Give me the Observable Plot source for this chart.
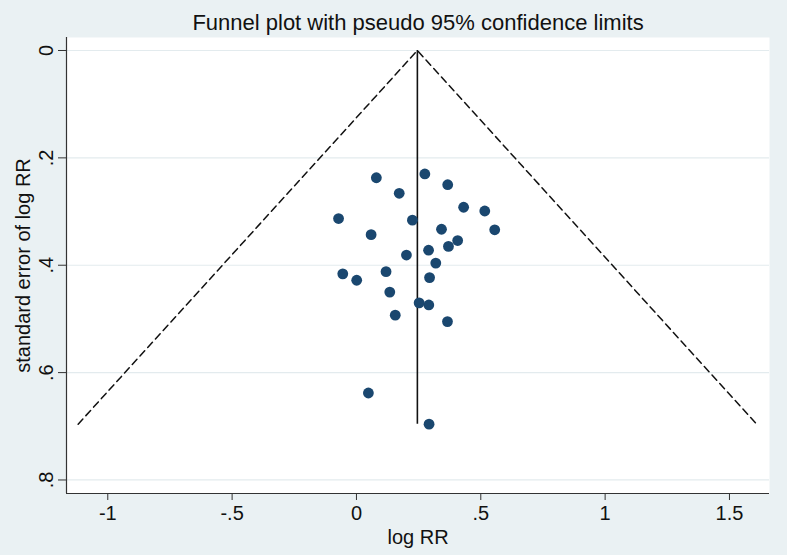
<!DOCTYPE html>
<html>
<head>
<meta charset="utf-8">
<script src="https://cdn.jsdelivr.net/npm/d3@7"></script>
<script src="https://cdn.jsdelivr.net/npm/@observablehq/plot@0.6"></script>
<style>
  html, body { margin: 0; padding: 0; background: #eaf1f3; }
  #chart { width: 787px; height: 555px; }
  svg { font-family: "Liberation Sans", Arial, Helvetica, sans-serif; }
</style>
</head>
<body>
<div id="chart"></div>
<script>
// Study estimates
const logRR = [0.080, 0.275, 0.367, 0.172, 0.431, 0.516, -0.072, 0.225, 0.342, 0.556,
               0.059, 0.407, 0.370, 0.290, 0.201, 0.319, -0.055, 0.119, 0.001, 0.294,
               0.134, 0.252, 0.291, 0.156, 0.366, 0.048, 0.292];
const seLogRR = [0.237, 0.230, 0.250, 0.266, 0.292, 0.299, 0.313, 0.316, 0.333, 0.334,
                 0.343, 0.354, 0.365, 0.372, 0.381, 0.396, 0.416, 0.412, 0.428, 0.423,
                 0.450, 0.470, 0.474, 0.493, 0.505, 0.638, 0.696];
const pooledLogRR = 0.245;
const xTicks = [-1, -0.5, 0, 0.5, 1, 1.5];
const yTicks = [0, 0.2, 0.4, 0.6, 0.8];
const titleText = "Funnel plot with pseudo 95% confidence limits";
const xTitle = "log RR";
const yTitle = "standard error of log RR";

const studies = logRR.map((v, i) => ({logRR: v, se: seLogRR[i]}));
const seMax = d3.max(seLogRR);
const z = 1.96;
const funnel = [
  {x: pooledLogRR - z * seMax, y: seMax},
  {x: pooledLogRR, y: 0},
  {x: pooledLogRR + z * seMax, y: seMax}
];
const xDomain = [-1.166, 1.661];
const yDomain = [0.8252, -0.0242];
const fmt = d => String(d).replace("0.", ".");

const chart = Plot.plot({
  width: 787,
  height: 555,
  marginLeft: 66,
  marginRight: 18,
  marginTop: 37,
  marginBottom: 62,
  style: {background: "#eaf1f3", fontSize: "20px", color: "#111"},
  x: {domain: xDomain},
  y: {domain: yDomain},
  marks: [
    Plot.frame({fill: "white", stroke: null}),
    Plot.gridY(yTicks, {stroke: "#e3ebee", strokeOpacity: 1, strokeWidth: 1.2}),
    Plot.line(funnel, {x: "x", y: "y", stroke: "#111", strokeWidth: 1.5, strokeDasharray: "7,4.5"}),
    Plot.ruleX([pooledLogRR], {y1: 0, y2: seMax, stroke: "#111", strokeWidth: 1.6}),
    Plot.dot(studies, {x: "logRR", y: "se", r: 5.4, fill: "#1a476f", stroke: null}),
    Plot.ruleX([xDomain[0]], {stroke: "#333", strokeWidth: 1.2}),
    Plot.ruleY([yDomain[0]], {stroke: "#333", strokeWidth: 1.2}),
    Plot.axisX(xTicks, {tickSize: 7, tickPadding: 5, tickFormat: fmt, fontSize: 20, label: null, stroke: "#333"}),
    Plot.axisY(yTicks, {tickSize: 8, tickPadding: 6, tickRotate: -90, tickFormat: fmt, fontSize: 20, label: null, stroke: "#333"}),
    Plot.text([xTitle], {frameAnchor: "bottom", lineAnchor: "middle", dy: 44, fontSize: 20, text: d => d}),
    Plot.text([yTitle], {frameAnchor: "left", lineAnchor: "middle", textAnchor: "middle", dx: -43, rotate: -90, fontSize: 20, text: d => d}),
    Plot.text([titleText], {frameAnchor: "top", lineAnchor: "middle", dy: -15, fontSize: 22, text: d => d})
  ]
});
document.getElementById("chart").appendChild(chart);
</script>
</body>
</html>
